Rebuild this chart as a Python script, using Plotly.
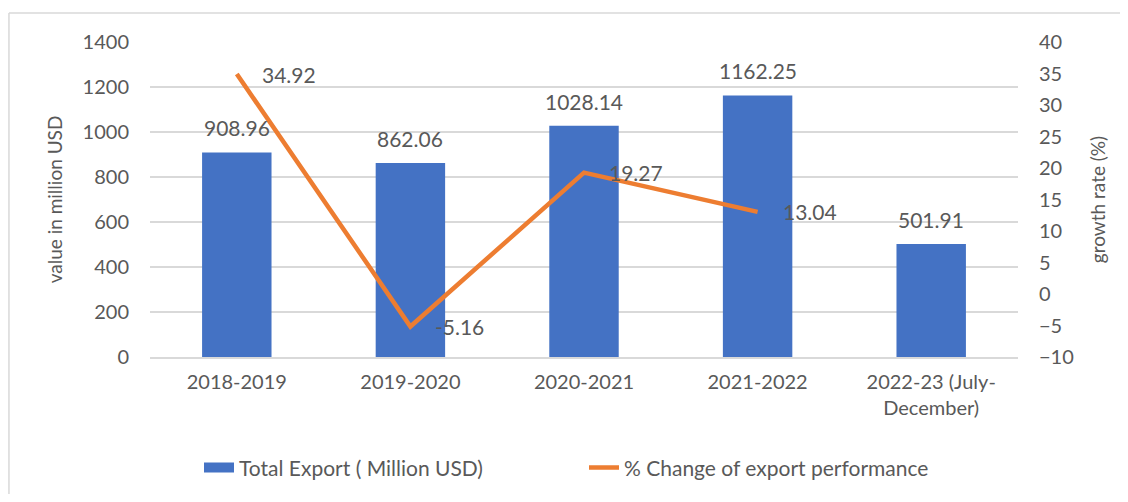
import plotly.graph_objects as go

# ---------- Data ----------
years = ["2018-2019", "2019-2020", "2020-2021", "2021-2022", "2022-23 (July-<br>December)"]
total_export = [908.96, 862.06, 1028.14, 1162.25, 501.91]
pct_change = [34.92, -5.16, 19.27, 13.04, None]

BAR_COLOR = "#4472C4"
LINE_COLOR = "#ED7D31"
TEXT_GRAY = "#595959"
GRID_GRAY = "#D9D9D9"
FONT = "Lato, 'Open Sans', sans-serif"

fig = go.Figure()

fig.add_trace(go.Bar(
    x=years,
    y=total_export,
    name="Total Export ( Million USD)",
    marker=dict(color=BAR_COLOR, line=dict(width=0)),
    showlegend=False,
))

# legend stand-in: Excel draws a wide flat swatch for the bar series
fig.add_trace(go.Scatter(
    x=[None], y=[None],
    name="Total Export ( Million USD)",
    mode="lines",
    line=dict(color=BAR_COLOR, width=12),
))

fig.add_trace(go.Scatter(
    x=years,
    y=pct_change,
    name="% Change of export performance",
    mode="lines",
    line=dict(color=LINE_COLOR, width=4.5),
    yaxis="y2",
    connectgaps=False,
))

# bar value labels above each bar
for x, v in zip(years, total_export):
    fig.add_annotation(
        x=x, y=v, xref="x", yref="y",
        text=f"{v:.2f}", showarrow=False,
        xanchor="center", yanchor="bottom", yshift=10,
        font=dict(size=21, color=TEXT_GRAY, family=FONT),
    )

# line labels sit to the right of each point
for x, v in zip(years, pct_change):
    if v is None:
        continue
    fig.add_annotation(
        x=x, y=v, xref="x", yref="y2",
        text=f"{v:.2f}", showarrow=False,
        xanchor="left", yanchor="middle", xshift=23,
        font=dict(size=21, color=TEXT_GRAY, family=FONT),
    )

# outer chart border (Excel style): only top and left edges are in view
border = dict(color=GRID_GRAY, width=1.5)
fig.add_shape(type="line", xref="paper", yref="paper",
              x0=-0.1625, x1=1.2, y0=1.092, y1=1.092, line=border, layer="below")
fig.add_shape(type="line", xref="paper", yref="paper",
              x0=-0.1625, x1=-0.1625, y0=-0.5, y1=1.092, line=border, layer="below")

fig.update_layout(
    width=1112,
    height=486,
    margin=dict(l=142, r=102, t=34, b=137, autoexpand=False),
    paper_bgcolor="white",
    plot_bgcolor="white",
    font=dict(family=FONT, size=20, color=TEXT_GRAY),
    bargap=0.6,
    showlegend=True,
    legend=dict(
        orientation="h",
        x=0.5, xanchor="center",
        yref="container",
        y=0.054, yanchor="middle",
        font=dict(size=21, color=TEXT_GRAY),
        entrywidthmode="pixels",
        entrywidth=340,
        tracegroupgap=0,
    ),
    xaxis=dict(
        showgrid=False,
        showline=True,
        linecolor=GRID_GRAY,
        linewidth=2,
        ticks="",
        tickfont=dict(size=20, color=TEXT_GRAY),
        ticklabelstandoff=6,
    ),
    yaxis=dict(
        range=[0, 1400],
        dtick=200,
        showgrid=True,
        gridcolor=GRID_GRAY,
        gridwidth=1.5,
        zeroline=False,
        showline=False,
        ticks="",
        ticklabelstandoff=20,
        tickfont=dict(size=20, color=TEXT_GRAY),
        title=dict(text="value in million USD", font=dict(size=19, color=TEXT_GRAY), standoff=14),
    ),
    yaxis2=dict(
        range=[-10, 40],
        dtick=5,
        overlaying="y",
        side="right",
        showgrid=False,
        zeroline=False,
        showline=False,
        ticks="",
        ticklabelstandoff=20,
        tickfont=dict(size=20, color=TEXT_GRAY),
        title=dict(text="growth rate (%)", font=dict(size=19, color=TEXT_GRAY), standoff=18),
    ),
)

fig.write_html("out.html")
